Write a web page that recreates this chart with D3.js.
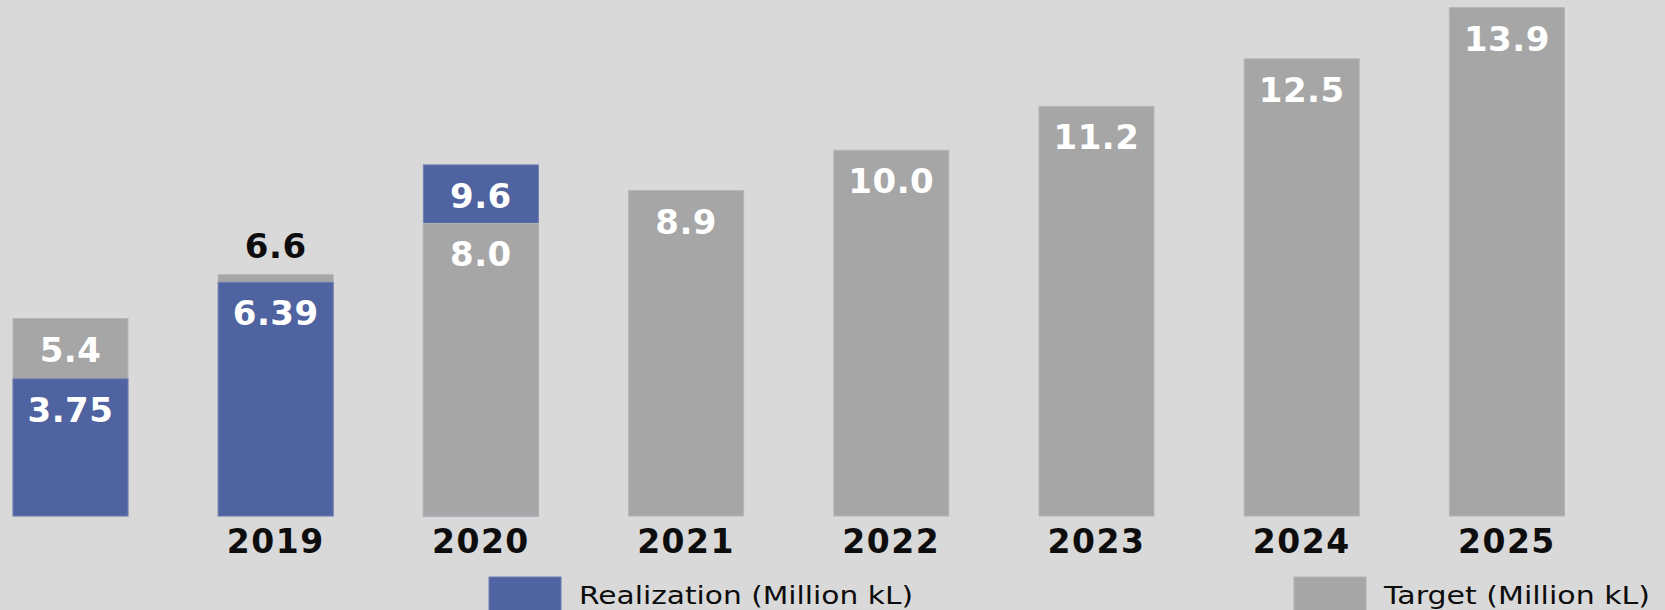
<!DOCTYPE html>
<html>
<head>
<meta charset="utf-8">
<script src="https://cdn.jsdelivr.net/npm/d3@7"></script>
<style>
  html, body { margin: 0; padding: 0; background: #d9d9d9; }
  svg { display: block; }
</style>
</head>
<body>
<div id="chart"></div>
<script>
// data (first bar carries no year label)
const years = ["2018", "2019", "2020", "2021", "2022", "2023", "2024", "2025"];
const yearLabels = ["", "2019", "2020", "2021", "2022", "2023", "2024", "2025"];
const realization = [3.75, 6.39, 9.6, null, null, null, null, null];
const target = [5.4, 6.6, 8.0, 8.9, 10.0, 11.2, 12.5, 13.9];

const W = 1665, H = 610;
const BLUE = "#4f63a0", GRAY = "#a6a6a6";

const svg = d3.select("#chart").append("svg")
    .attr("width", W)
    .attr("height", H);

svg.append("rect").attr("width", W).attr("height", H).attr("fill", "#d9d9d9");

const x = d3.scaleBand()
    .domain(years)
    .range([13, 1564.4])
    .paddingInner(0.4396)
    .paddingOuter(0);

const y = d3.scaleLinear()
    .domain([0, 14])
    .range([516, 4]);

// bars overlap from zero; the taller one goes behind
const bars = [];
years.forEach((yr, i) => {
    const items = [{ year: yr, value: target[i], color: GRAY, text: target[i].toFixed(1) }];
    if (realization[i] != null) {
        items.push({ year: yr, value: realization[i], color: BLUE, text: String(realization[i]) });
    }
    items.sort((a, b) => b.value - a.value);
    items.forEach((d, k) => {
        d.front = k === items.length - 1;
        // visible band of the back bar, in pixels
        d.gap = items.length > 1 && !d.front ? y(items[1].value) - y(d.value) : Infinity;
        bars.push(d);
    });
});

svg.selectAll("rect.bar")
    .data(bars)
    .join("rect")
    .attr("class", "bar")
    .attr("x", d => x(d.year))
    .attr("y", d => y(d.value))
    .attr("width", x.bandwidth())
    .attr("height", d => y(0) - y(d.value))
    .attr("fill", d => d.color)
    .attr("stroke", d => d.color === BLUE ? "#6d7fb3" : "#b4b4b4")
    .attr("stroke-width", 1);

// value labels: inside the top of each bar, above it when the band is too thin
svg.selectAll("text.value")
    .data(bars)
    .join("text")
    .attr("class", "value")
    .attr("x", d => x(d.year) + x.bandwidth() / 2)
    .attr("y", d => d.gap < 40 ? y(d.value) - 17 : y(d.value) + 43)
    .attr("text-anchor", "middle")
    .attr("font-family", "DejaVu Sans")
    .attr("font-weight", "bold")
    .attr("font-size", "34px")
    .attr("letter-spacing", "0.5px")
    .attr("fill", d => d.gap < 40 ? "#0d0d0d" : "#ffffff")
    .text(d => d.text);

// year labels
svg.selectAll("text.year")
    .data(years)
    .join("text")
    .attr("class", "year")
    .attr("x", d => x(d) + x.bandwidth() / 2)
    .attr("y", y(0) + 37)
    .attr("text-anchor", "middle")
    .attr("font-family", "DejaVu Sans")
    .attr("font-weight", "bold")
    .attr("font-size", "33px")
    .attr("letter-spacing", "1.5px")
    .attr("fill", "#0d0d0d")
    .text((d, i) => yearLabels[i]);

// legend
const legend = [
    { label: "Realization (Million kL)", color: BLUE, x: 489, w: 334 },
    { label: "Target (Million kL)", color: GRAY, x: 1294, w: 266 }
];

const lg = svg.selectAll("g.legend")
    .data(legend)
    .join("g")
    .attr("class", "legend")
    .attr("transform", d => `translate(${d.x},577)`);

lg.append("rect")
    .attr("width", 72)
    .attr("height", 40)
    .attr("fill", d => d.color)
    .attr("stroke", d => d.color === BLUE ? "#6d7fb3" : "#b4b4b4");

lg.append("text")
    .attr("x", 90)
    .attr("y", 27)
    .attr("font-family", "DejaVu Sans")
    .attr("font-size", "25px")
    .attr("textLength", d => d.w)
    .attr("lengthAdjust", "spacingAndGlyphs")
    .attr("fill", "#0d0d0d")
    .text(d => d.label);
</script>
</body>
</html>
